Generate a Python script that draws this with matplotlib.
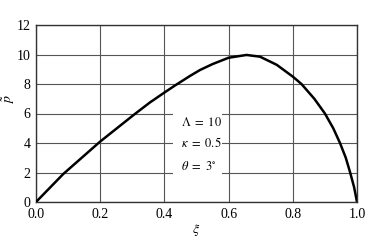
import matplotlib
matplotlib.use('Agg')
import matplotlib.pyplot as plt
import numpy as np

# values
xi = [0.0, 0.085, 0.2, 0.307, 0.355, 0.4, 0.433, 0.48, 0.511, 0.55, 0.6,
      0.656, 0.698, 0.75, 0.8, 0.827, 0.867, 0.9, 0.926, 0.947, 0.965,
      0.978, 0.991, 1.0]
p_tilde = [0.0, 1.9, 4.1, 5.95, 6.75, 7.42, 7.9, 8.55, 8.95, 9.35, 9.78,
           9.97, 9.85, 9.3, 8.5, 8.0, 7.0, 6.0, 5.0, 4.0, 3.0,
           2.05, 1.0, 0.0]

x_ticks = [0.0, 0.2, 0.4, 0.6, 0.8, 1.0]
x_ticklabels = ['0.0', '0.2', '0.4', '0.6', '0.8', '1.0']
y_ticks = [0, 2, 4, 6, 8, 10, 12]
params = [r'$\Lambda\ =\ 10$', r'$\kappa\ =\ 0.5$', r'$\theta\ =\ 3^{\circ}$']
param_y = [5.37, 3.98, 2.39]

plt.rcParams['font.family'] = ['Liberation Serif', 'DejaVu Serif']
plt.rcParams['mathtext.fontset'] = 'stix'

fig = plt.figure(figsize=(3.82, 2.40), dpi=100)
ax = fig.add_axes([36 / 382, 1 - 202 / 240, 321 / 382, 177 / 240])

ax.plot(xi, p_tilde, color='black', lw=1.8, solid_joinstyle='round', zorder=4)

ax.set_xlim(0, 1)
ax.set_ylim(0, 12)
ax.set_xticks(x_ticks)
ax.set_xticklabels(x_ticklabels)
ax.set_yticks(y_ticks)
ax.tick_params(length=0, labelsize=10, pad=4)
ax.grid(True, color='#555555', lw=0.8, zorder=1)
ax.set_axisbelow(True)
for s in ax.spines.values():
    s.set_linewidth(1.0)
    s.set_color('#333333')

# white patch behind the parameter text, cutting the grid lines
ax.add_patch(plt.Rectangle((0.427, 1.5), 0.152, 5.0, facecolor='white',
                           edgecolor='none', zorder=2))
for label, yv in zip(params, param_y):
    ax.text(0.452, yv, label, fontsize=9, ha='left', va='center', zorder=3)

ax.set_xlabel(r'$\xi$', fontsize=10, labelpad=1)
ax.set_ylabel(r'$\tilde{p}$', fontsize=10)
ax.yaxis.set_label_coords(-0.06, 0.58)

fig.savefig('out.png', dpi=100)
